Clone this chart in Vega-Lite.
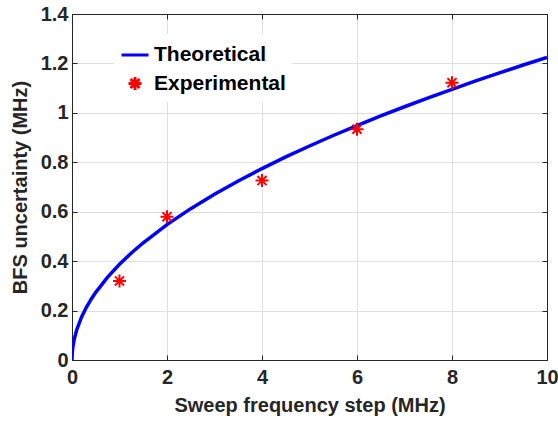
{
  "$schema": "https://vega.github.io/schema/vega-lite/v6.json",
  "width": 475,
  "height": 346,
  "autosize": {"type": "none"},
  "padding": {"left": 72, "top": 14, "right": 11, "bottom": 66},
  "background": "white",
  "config": {
    "font": "Liberation Sans",
    "view": {"stroke": null},
    "axis": {
      "labelFont": "Liberation Sans",
      "labelFontWeight": "bold",
      "labelFontSize": 20,
      "labelColor": "#262626",
      "titleFont": "Liberation Sans",
      "titleFontWeight": "bold",
      "titleFontSize": 20,
      "titleColor": "#262626",
      "domainColor": "#262626",
      "domainWidth": 1,
      "tickColor": "#262626",
      "tickWidth": 1,
      "tickSize": -5,
      "gridColor": "#dfdfdf",
      "gridWidth": 1,
      "labelFlush": false,
      "labelOverlap": false
    },
    "legend": {
      "orient": "none",
      "legendX": 42,
      "legendY": 20,
      "fillColor": "white",
      "padding": 6,
      "labelFont": "Liberation Sans",
      "labelFontWeight": "bold",
      "labelFontSize": 21,
      "labelColor": "#000000",
      "symbolStrokeWidth": 3,
      "rowPadding": 6,
      "labelOffset": 4
    }
  },
  "datasets": {
    "theory": [
      {"x": 0, "y": 0, "series": "Theoretical"},
      {"x": 0.001, "y": 0.0122, "series": "Theoretical"},
      {"x": 0.005, "y": 0.0274, "series": "Theoretical"},
      {"x": 0.01, "y": 0.0387, "series": "Theoretical"},
      {"x": 0.02, "y": 0.0548, "series": "Theoretical"},
      {"x": 0.05, "y": 0.0866, "series": "Theoretical"},
      {"x": 0.1, "y": 0.1225, "series": "Theoretical"},
      {"x": 0.2, "y": 0.1732, "series": "Theoretical"},
      {"x": 0.3, "y": 0.2121, "series": "Theoretical"},
      {"x": 0.4, "y": 0.2449, "series": "Theoretical"},
      {"x": 0.5, "y": 0.2739, "series": "Theoretical"},
      {"x": 0.75, "y": 0.3354, "series": "Theoretical"},
      {"x": 1, "y": 0.3873, "series": "Theoretical"},
      {"x": 1.25, "y": 0.433, "series": "Theoretical"},
      {"x": 1.5, "y": 0.4743, "series": "Theoretical"},
      {"x": 2, "y": 0.5477, "series": "Theoretical"},
      {"x": 2.5, "y": 0.6124, "series": "Theoretical"},
      {"x": 3, "y": 0.6708, "series": "Theoretical"},
      {"x": 3.5, "y": 0.7246, "series": "Theoretical"},
      {"x": 4, "y": 0.7746, "series": "Theoretical"},
      {"x": 4.5, "y": 0.8216, "series": "Theoretical"},
      {"x": 5, "y": 0.866, "series": "Theoretical"},
      {"x": 5.5, "y": 0.9083, "series": "Theoretical"},
      {"x": 6, "y": 0.9487, "series": "Theoretical"},
      {"x": 6.5, "y": 0.9874, "series": "Theoretical"},
      {"x": 7, "y": 1.0247, "series": "Theoretical"},
      {"x": 7.5, "y": 1.0607, "series": "Theoretical"},
      {"x": 8, "y": 1.0954, "series": "Theoretical"},
      {"x": 8.5, "y": 1.1292, "series": "Theoretical"},
      {"x": 9, "y": 1.1619, "series": "Theoretical"},
      {"x": 9.5, "y": 1.1937, "series": "Theoretical"},
      {"x": 10, "y": 1.2247, "series": "Theoretical"}
    ],
    "experiment": [
      {"x": 1, "y": 0.32, "series": "Experimental"},
      {"x": 2, "y": 0.58, "series": "Experimental"},
      {"x": 4, "y": 0.726, "series": "Experimental"},
      {"x": 6, "y": 0.934, "series": "Experimental"},
      {"x": 8, "y": 1.122, "series": "Experimental"}
    ]
  },
  "resolve": {"axis": {"x": "independent", "y": "independent"}},
  "layer": [
    {
      "data": {"name": "theory"},
      "mark": {"type": "line", "strokeWidth": 3.5, "clip": true},
      "encoding": {
        "x": {
          "field": "x", "type": "quantitative",
          "scale": {"domain": [0, 10], "nice": false, "zero": false},
          "axis": {"title": "Sweep frequency step (MHz)", "values": [0, 2, 4, 6, 8, 10], "labelPadding": 12, "titlePadding": 8, "grid": true}
        },
        "y": {
          "field": "y", "type": "quantitative",
          "scale": {"domain": [0, 1.4], "nice": false},
          "axis": {"title": "BFS uncertainty (MHz)", "values": [0, 0.2, 0.4, 0.6, 0.8, 1, 1.2, 1.4], "format": "~g", "labelPadding": 9, "titlePadding": 10, "grid": true}
        },
        "color": {
          "field": "series", "type": "nominal",
          "scale": {"domain": ["Theoretical", "Experimental"], "range": ["#0000ff", "#ff0000"]},
          "legend": {"title": null}
        }
      }
    },
    {
      "data": {"name": "experiment"},
      "mark": {"type": "point", "filled": false, "strokeWidth": 2, "opacity": 1},
      "encoding": {
        "x": {
          "field": "x", "type": "quantitative",
          "axis": {"orient": "top", "title": null, "labels": false, "values": [0, 2, 4, 6, 8, 10], "grid": false}
        },
        "y": {
          "field": "y", "type": "quantitative",
          "axis": {"orient": "right", "title": null, "labels": false, "values": [0, 0.2, 0.4, 0.6, 0.8, 1, 1.2, 1.4], "grid": false}
        },
        "color": {
          "field": "series", "type": "nominal",
          "legend": {"title": null}
        },
        "shape": {
          "field": "series", "type": "nominal",
          "scale": {"domain": ["Theoretical", "Experimental"], "range": ["stroke", "M-1,0L1,0M0,-1L0,1M-0.7,-0.7L0.7,0.7M-0.7,0.7L0.7,-0.7"]},
          "legend": {"title": null}
        },
        "size": {
          "field": "series", "type": "nominal",
          "scale": {"domain": ["Theoretical", "Experimental"], "range": [729, 169]},
          "legend": {"title": null}
        }
      }
    }
  ]
}
